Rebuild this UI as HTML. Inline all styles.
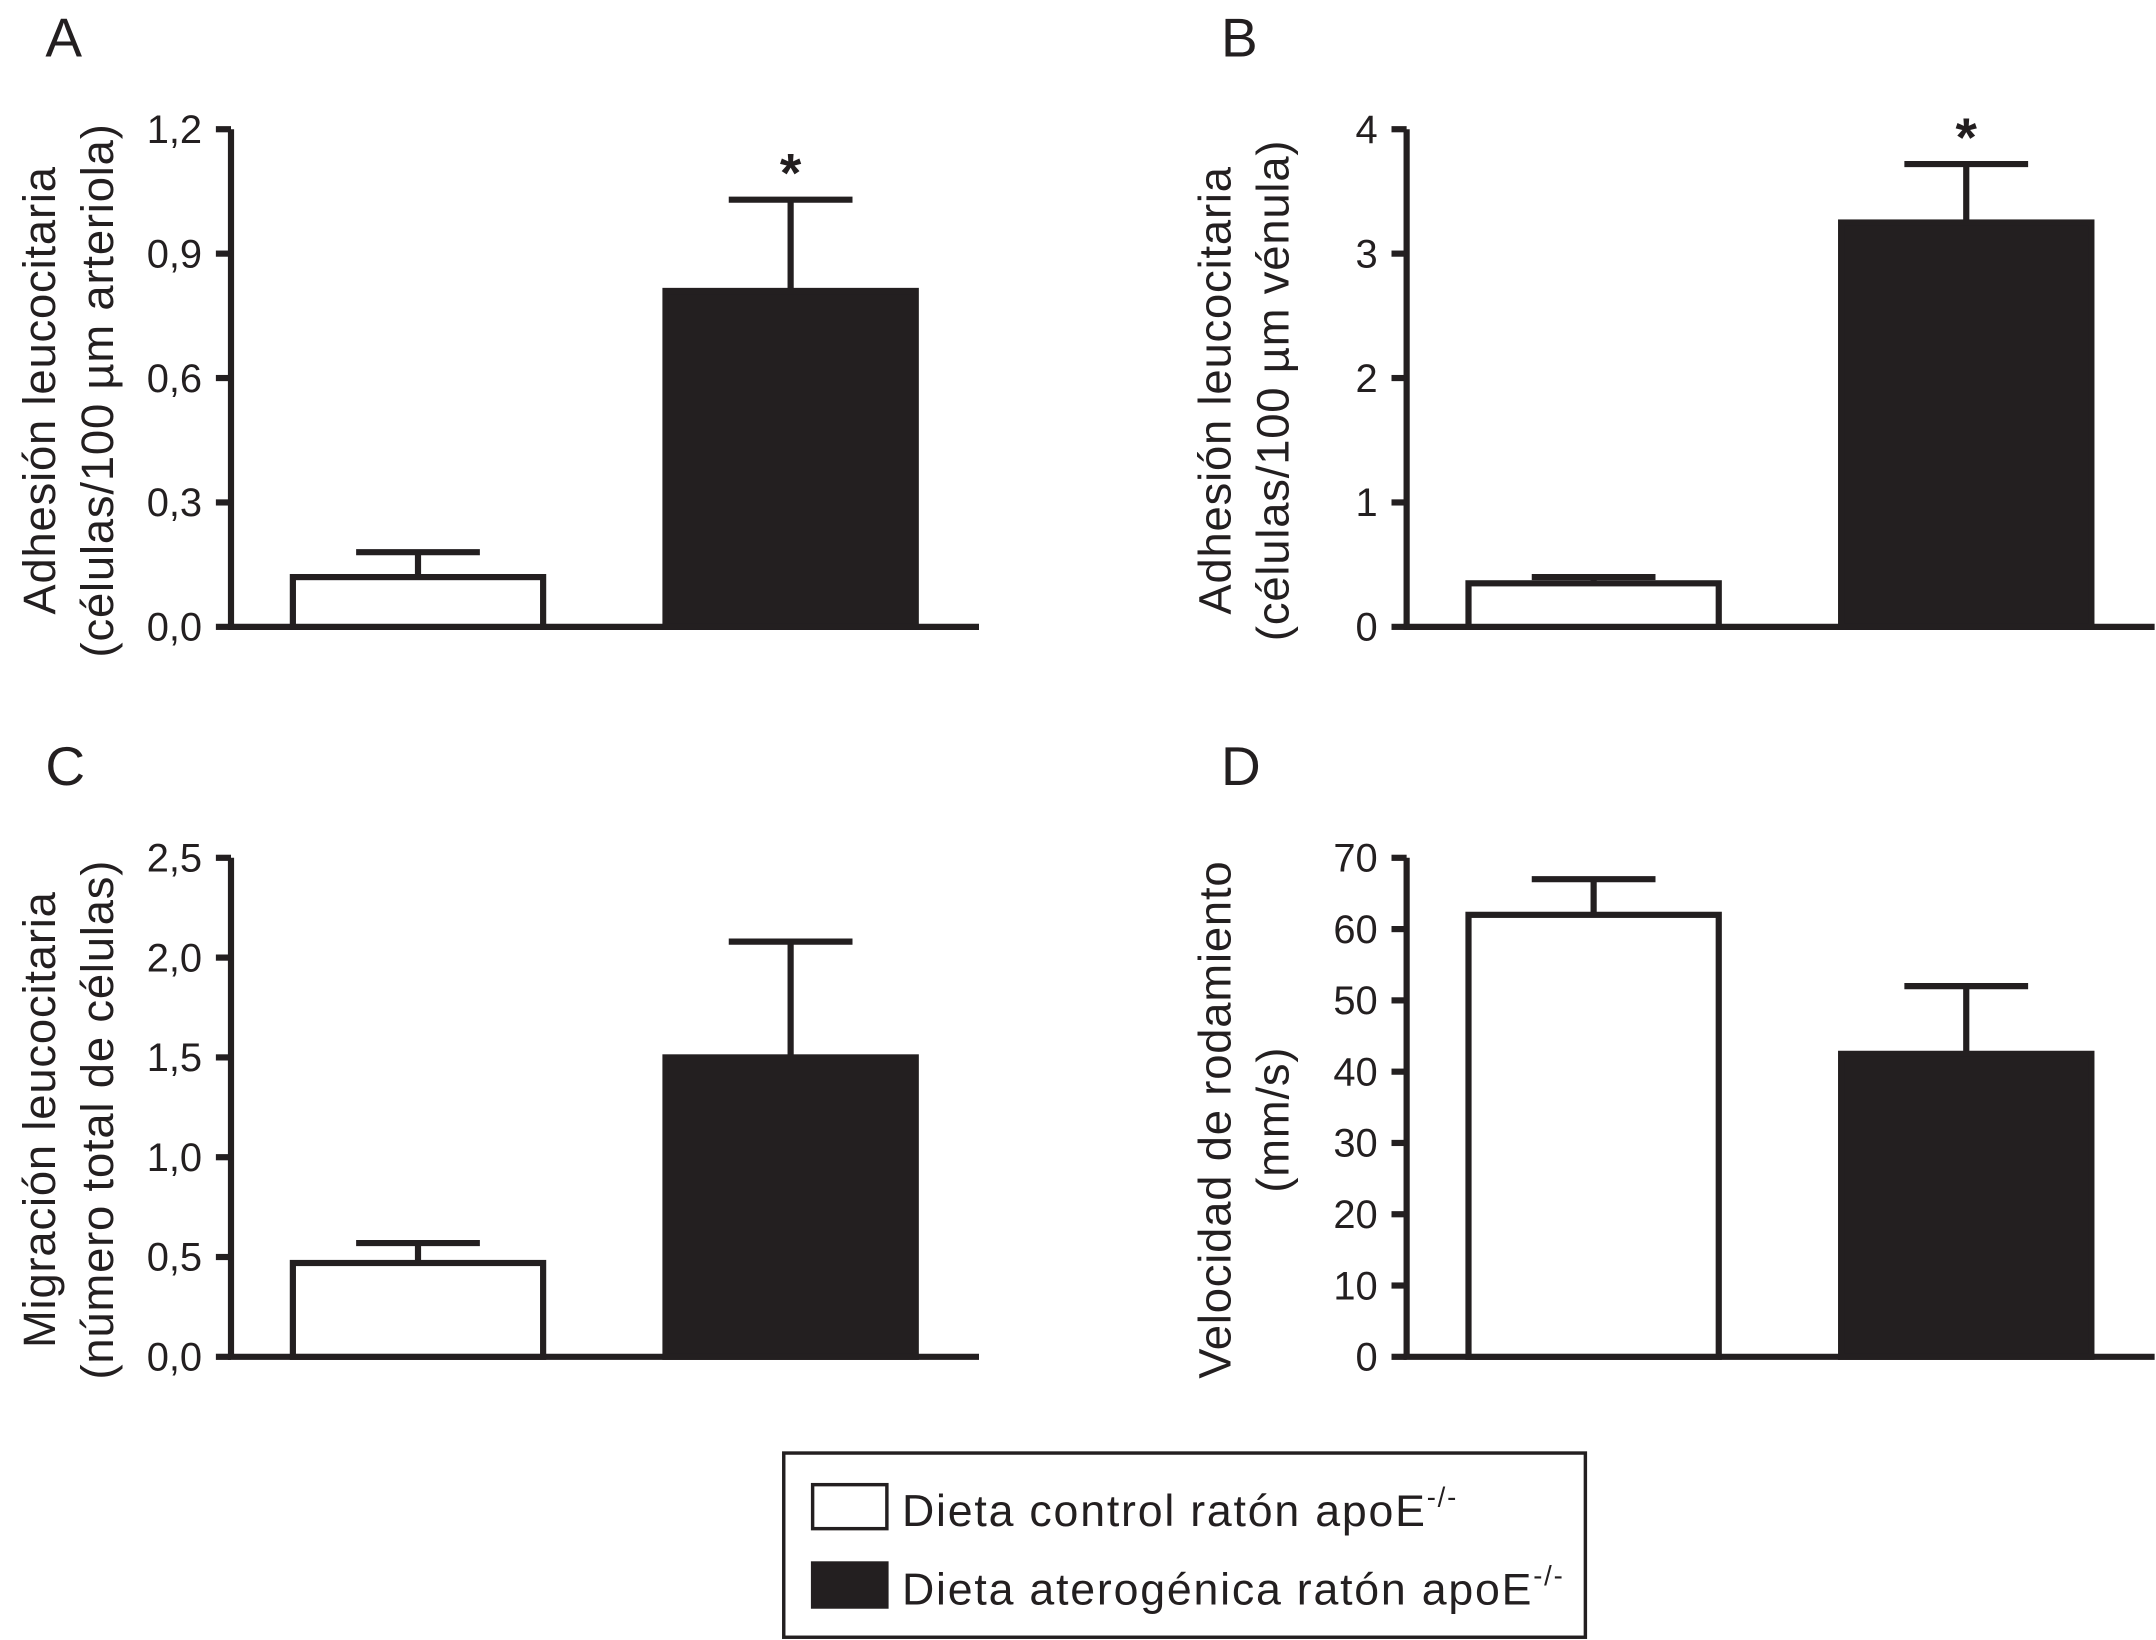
<!DOCTYPE html>
<html><head><meta charset="utf-8"><style>
html,body{margin:0;padding:0;background:#fff}
svg{display:block}
text{font-family:"Liberation Sans",Arial,sans-serif;fill:#231f20}
</style></head><body>
<svg id="fig" width="2156" height="1640" viewBox="0 0 1568 1193" preserveAspectRatio="none" xmlns="http://www.w3.org/2000/svg"></svg>
<script>
const categories = ["Dieta control ratón apoE-/-", "Dieta aterogénica ratón apoE-/-"];
const valuesA = [0.12, 0.81];
const errorsA = [0.18, 1.03];
const ticksA = ["0,0","0,3","0,6","0,9","1,2"];
const valuesB = [0.35, 3.25];
const errorsB = [0.40, 3.72];
const ticksB = ["0","1","2","3","4"];
const valuesC = [0.47, 1.50];
const errorsC = [0.57, 2.08];
const ticksC = ["0,0","0,5","1,0","1,5","2,0","2,5"];
const valuesD = [62, 42.5];
const errorsD = [67, 52];
const ticksD = ["0","10","20","30","40","50","60","70"];
const sigA = [false, true];
const sigB = [false, true];

const NS = "http://www.w3.org/2000/svg";
const svg = document.getElementById('fig');
const C = "#231f20";
function mk(tag, attrs, parent){const e=document.createElementNS(NS,tag);for(const k in attrs)e.setAttribute(k,attrs[k]);(parent||svg).appendChild(e);return e;}

const panels = [
 {id:'a',letter:'A',x0:168,top:94,bot:456,max:1.2,vals:valuesA,errs:errorsA,ticks:ticksA,sig:sigA,title:["Adhesión leucocitaria","(células/100 µm arteriola)"],tx:[30,72]},
 {id:'b',letter:'B',x0:1023,top:94,bot:456,max:4,vals:valuesB,errs:errorsB,ticks:ticksB,sig:sigB,title:["Adhesión leucocitaria","(células/100 µm vénula)"],tx:[885,927]},
 {id:'c',letter:'C',x0:168,top:624,bot:987,max:2.5,vals:valuesC,errs:errorsC,ticks:ticksC,sig:[false,false],title:["Migración leucocitaria","(número total de células)"],tx:[30,72]},
 {id:'d',letter:'D',x0:1023,top:624,bot:987,max:70,vals:valuesD,errs:errorsD,ticks:ticksD,sig:[false,false],title:["Velocidad de rodamiento","(mm/s)"],tx:[885,927]}
];

panels.forEach(p=>{
  const g = mk('g',{});
  
  
  const y = v => p.bot - v/p.max*(p.bot-p.top);
  const L = mk('text',{x:p.x0-135,y:p.top-53,'font-size':40},g);
  L.textContent=p.letter;
  
  
  const ax = mk('path',{d:`M${p.x0},${p.top} V${p.bot} H${p.x0+544}`,stroke:C,'stroke-width':4.5,fill:'none'},g);
  
  
  const n = p.ticks.length-1;
  p.ticks.forEach((t,i)=>{
    const v = p.max*i/n, yy=y(v);
    const tk = mk('line',{x1:p.x0-11,x2:p.x0,y1:yy,y2:yy,stroke:C,'stroke-width':4.5},g);
    
    
    const tl = mk('text',{x:p.x0-21,y:yy+10,'font-size':29,'text-anchor':'end'},g);
    tl.textContent=t;
    
    
  });
  const cy = (p.top+p.bot)/2 + 9;
  p.title.forEach((s,i)=>{
    const t = mk('text',{x:0,y:0,'font-size':33,'letter-spacing':0.6,'text-anchor':'middle',transform:`translate(${p.tx[i]+10},${cy}) rotate(-90)`},g);
    t.textContent=s;
    
    
  });
  const bx=[p.x0+45,p.x0+316], bw=182;
  p.vals.forEach((v,i)=>{
    const cx = bx[i]+bw/2;
    const e = mk('path',{d:`M${cx},${y(v)} V${y(p.errs[i])} M${cx-45},${y(p.errs[i])} H${cx+45}`,stroke:C,'stroke-width':4.5,fill:'none'},g);
    
    
    const r = mk('rect',{x:bx[i],y:y(v),width:bw,height:p.bot-y(v),fill:i?C:'#fff',stroke:C,'stroke-width':4.5},g);
    
    
    if(p.sig[i]){
      const s = mk('text',{x:cx,y:y(p.errs[i])-6,'font-size':40,'text-anchor':'middle','font-weight':'bold'},g);
      s.textContent='*';
      
      
    }
  });
});

const lg = mk('g',{});


const lb = mk('rect',{x:570,y:1057,width:583,height:134,fill:'#fff',stroke:C,'stroke-width':2.5},lg);


categories.forEach((c,i)=>{
  const yy = 1080+i*57;
  const r = mk('rect',{x:591,y:yy,width:54,height:32,fill:i?C:'#fff',stroke:C,'stroke-width':2.5},lg);
  
  
  const t = mk('text',{x:656,y:yy+30,'font-size':32.5,'letter-spacing':1.3},lg);
  
  
  t.appendChild(document.createTextNode(c.replace('-/-','')));
  const sp = mk('tspan',{'font-size':20,dy:-14},t);
  sp.textContent='-/-';
});
</script>
</body></html>
